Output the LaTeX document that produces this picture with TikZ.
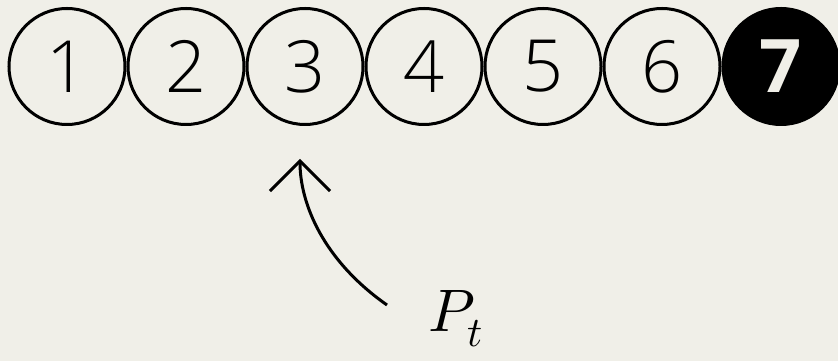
\documentclass[tikz,border=0pt]{standalone}
\usepackage{fontspec}
\usepackage{unicode-math}
\setmathfont{Latin Modern Math}
\setsansfont{Open Sans}
\newfontfamily\slotfont{Open Sans Light}
\usetikzlibrary{arrows.meta, positioning}
\definecolor{paper}{HTML}{F0EFE8}
\tikzset{
  slot/.style={circle, draw=black, line width=3pt, minimum size=116pt, inner sep=0pt,
    font=\fontsize{72}{72}\selectfont\slotfont},
  slotFull/.style={slot, fill=black, text=paper, font=\fontsize{74}{74}\selectfont\sffamily\bfseries},
  arrow/.style={-{Straight Barb[length=30pt, width=60pt]}, line width=3pt},
  ptlabel/.style={font=\fontsize{60}{60}\selectfont, inner sep=0pt},
}

\begin{document}
\begin{tikzpicture}[x=1pt, y=1pt]
\fill[paper] (0,0) rectangle (838,361);
\useasboundingbox (0,0) rectangle (838,361);

\node[slot] (s1) at (67,294.5) {1};
\foreach \i [remember=\i as \j (initially 1)] in {2,...,6}
  \node[slot, right=0pt of s\j] (s\i) {\i};
\node[slotFull, right=0pt of s6] (s7) {7};

\node[ptlabel] (pt) at (456,42) {$P_t$};
\coordinate (tail) at (387,56);

\draw[arrow, shorten >=33pt] (tail) to[out=145, in=-90] ([xshift=-5pt]s3.south);
\end{tikzpicture}
\end{document}
